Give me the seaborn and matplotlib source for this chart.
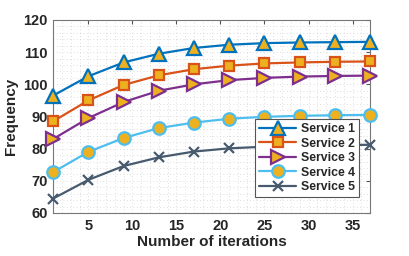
import numpy as np
import pandas as pd
import matplotlib
matplotlib.use("Agg")
import matplotlib.pyplot as plt
import seaborn as sns
from matplotlib.ticker import MultipleLocator

iterations = [1, 5, 9, 13, 17, 21, 25, 29, 33, 37]
service_1 = [96.5, 102.5, 106.8, 109.5, 111.3, 112.3, 112.8, 113.0, 113.1, 113.2]
service_2 = [88.5, 95.0, 99.8, 102.8, 104.7, 105.8, 106.5, 106.8, 107.0, 107.1]
service_3 = [83.0, 89.5, 94.5, 98.0, 100.0, 101.3, 102.0, 102.4, 102.6, 102.7]
service_4 = [72.7, 79.0, 83.3, 86.4, 88.1, 89.3, 89.9, 90.2, 90.4, 90.5]
service_5 = [64.5, 70.3, 74.6, 77.3, 79.1, 80.1, 80.6, 80.9, 81.1, 81.2]
names = ["Service 1", "Service 2", "Service 3", "Service 4", "Service 5"]

df = pd.DataFrame({
    "iter": iterations * 5,
    "freq": service_1 + service_2 + service_3 + service_4 + service_5,
    "service": np.repeat(names, len(iterations)),
})

sns.set_style("white")
plt.rcParams["font.family"] = ["Liberation Sans", "DejaVu Sans"]
plt.rcParams["font.weight"] = "bold"

colors = ["#0072BD", "#D95319", "#7E2F8E", "#4DBEEE", "#475A6E"]
markers = ["^", "s", ">", "o", "x"]
sizes = [10, 7.5, 10, 9, 7]

fig = plt.figure(figsize=(4.09, 2.56), dpi=100)
ax = fig.add_axes([0.130, 0.168, 0.775, 0.754])

for name, c, m, ms in zip(names, colors, markers, sizes):
    sub = df[df["service"] == name]
    kw = dict(marker=m, markersize=ms, markeredgewidth=1.6, markeredgecolor=c)
    if m != "x":
        kw["markerfacecolor"] = "#EDB120"
    sns.lineplot(data=sub, x="iter", y="freq", ax=ax, color=c, linewidth=1.6,
                 label=name, clip_on=False, zorder=3, **kw)

ax.set_xlim(1, 37)
ax.set_ylim(60, 120)
ax.xaxis.set_major_locator(MultipleLocator(5))
ax.yaxis.set_major_locator(MultipleLocator(10))
ax.xaxis.set_minor_locator(MultipleLocator(1))
ax.yaxis.set_minor_locator(MultipleLocator(2))
ax.grid(which="both", linestyle=(0, (1, 3)), color="#d2d2d2", linewidth=0.6)
ax.set_axisbelow(True)
ax.tick_params(which="major", direction="in", length=3, top=True, right=True,
               labelsize=10.5, color="#555555", pad=4)
ax.tick_params(which="minor", length=0)
for lab in ax.get_xticklabels() + ax.get_yticklabels():
    lab.set_fontweight("bold")
for s in ax.spines.values():
    s.set_color("#777777")
    s.set_linewidth(0.8)

ax.set_xlabel("Number of iterations", fontsize=11, fontweight="bold", labelpad=2)
ax.set_ylabel("Frequency", fontsize=11, fontweight="bold", labelpad=4)

leg = ax.legend(loc="lower right", bbox_to_anchor=(0.985, 0.05),
                prop={"weight": "bold", "size": 8.8}, handlelength=3.0,
                labelspacing=0.2, borderpad=0.35, handletextpad=0.4,
                fancybox=False, framealpha=1, edgecolor="#555555")
leg.get_frame().set_linewidth(0.8)
leg.set_zorder(5)

fig.savefig("out.png", dpi=100)
